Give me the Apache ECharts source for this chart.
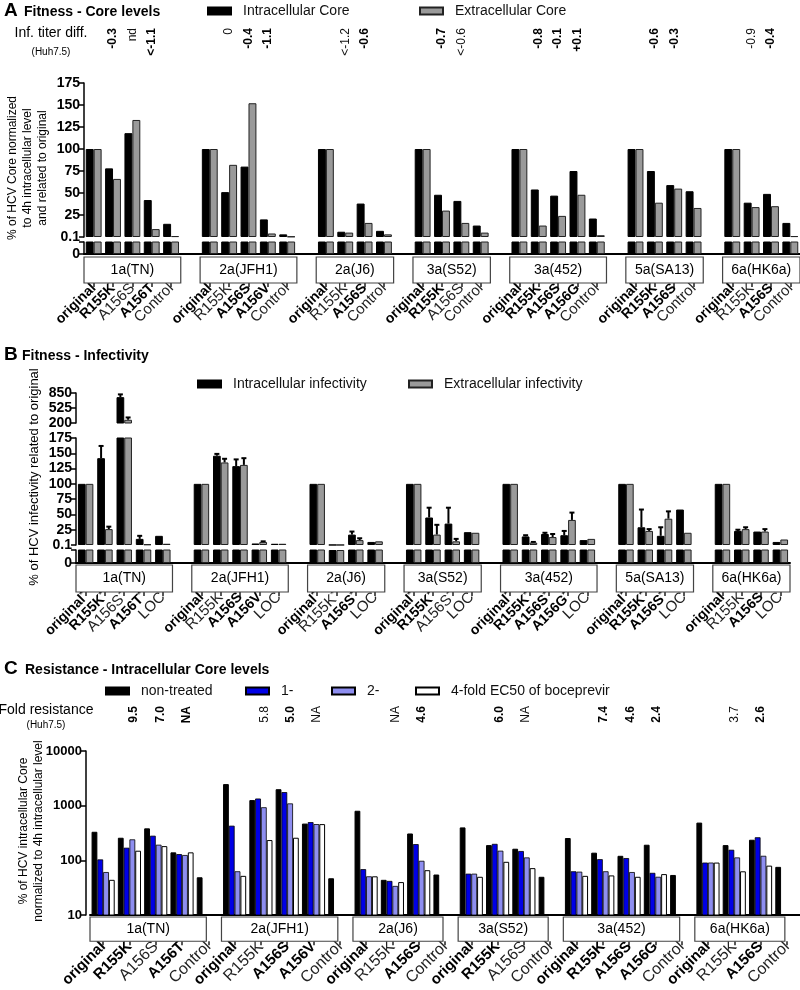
<!DOCTYPE html>
<html>
<head>
<meta charset="utf-8">
<script src="https://cdn.jsdelivr.net/npm/echarts@6/dist/echarts.min.js"></script>
<style>
html,body{margin:0;padding:0;background:#fff}
#main{width:800px;height:990px}
</style>
</head>
<body>
<div id="main"></div>
<script>
var FONT = "'Liberation Sans', Arial, sans-serif";

// ---- A: core levels ----
var strainsA = ['1a(TN)', '2a(JFH1)', '2a(J6)', '3a(S52)', '3a(452)', '5a(SA13)', '6a(HK6a)'];
var variantsA = [
    ['original', 'R155K', 'A156S', 'A156T', 'Control'],
    ['original', 'R155K', 'A156S', 'A156V', 'Control'],
    ['original', 'R155K', 'A156S', 'Control'],
    ['original', 'R155K', 'A156S', 'Control'],
    ['original', 'R155K', 'A156S', 'A156G', 'Control'],
    ['original', 'R155K', 'A156S', 'Control'],
    ['original', 'R155K', 'A156S', 'Control']
];
var boldA = [[1,1,0,1,0], [1,0,1,1,0], [1,0,1,0], [1,1,0,0], [1,1,1,1,0], [1,1,1,0], [1,0,1,0]];
var intraCoreA = [[100,78,118,42,15], [100,51,80,20,3], [100,6,38,7], [100,48,41,13], [100,54,47,75,21], [100,75,59,52], [100,39,49,16]];
var extraCoreA = [[100,66,133,9,1], [100,82,152,4,0.5], [100,5,16,3], [100,30,16,5], [100,13,24,48,2], [100,39,55,33], [100,34,35,1]];
var titerA = [['','-0.3','nd','<-1.1',''], ['','0','-0.4','-1.1',''], ['','<-1.2','-0.6',''], ['','-0.7','<-0.6',''], ['','-0.8','-0.1','+0.1',''], ['','-0.6','-0.3',''], ['','-0.9','-0.4','']];
var titerBoldA = [[0,1,0,1,0], [0,0,1,1,0], [0,0,1,0], [0,1,0,0], [0,1,1,1,0], [0,1,1,0], [0,0,1,0]];

// ---- B: infectivity ----
var variantsB = [
    ['original*', 'R155K*', 'A156S*', 'A156T*', 'LOC'],
    ['original', 'R155K', 'A156S', 'A156V', 'LOC'],
    ['original*', 'R155K*', 'A156S*', 'LOC'],
    ['original*', 'R155K*', 'A156S*', 'LOC'],
    ['original*', 'R155K*', 'A156S*', 'A156G*', 'LOC'],
    ['original*', 'R155K*', 'A156S*', 'LOC'],
    ['original', 'R155K', 'A156S', 'LOC']
];
var boldB = [[1,1,0,1,0], [1,0,1,1,0], [1,0,1,0], [1,1,0,0], [1,1,1,1,0], [1,1,1,0], [1,0,1,0]];
var intraInfB = [[100,142,760,10,15], [100,146,129,2.5,2], [100,0.1,17,5], [100,45,35,21], [100,14,18,16,8], [100,29,15,58], [100,23,22,5]];
var intraErrB = [[0,20,60,5,0], [0,3,11,0,0], [0,0,5,0], [0,16,26,0], [0,2,2,7,0], [0,29,14,0], [0,2,0,0]];
var extraInfB = [[100,26,270,1,2], [100,135,131,5,2], [100,0.1,8,6], [100,17,6,20], [100,4,13,41,10], [100,23,43,20], [100,26,22,9]];
var extraErrB = [[0,4,50,0,0], [0,6,11,1,0], [0,0,3,0], [0,16,4,0], [0,1,5,12,0], [0,3,12,0], [0,3,4,0]];

// ---- C: resistance ----
var strainsC = ['1a(TN)', '2a(JFH1)', '2a(J6)', '3a(S52)', '3a(452)', '6a(HK6a)'];
var variantsC = [
    ['original', 'R155K', 'A156S', 'A156T', 'Control'],
    ['original', 'R155K', 'A156S', 'A156V', 'Control'],
    ['original', 'R155K', 'A156S', 'Control'],
    ['original', 'R155K', 'A156S', 'Control'],
    ['original', 'R155K', 'A156S', 'A156G', 'Control'],
    ['original', 'R155K', 'A156S', 'Control']
];
var boldC = [[1,1,0,1,0], [1,0,1,1,0], [1,0,1,0], [1,1,0,0], [1,1,1,1,0], [1,0,1,0]];
var nonTreatedC = [[333,259,385,140,49], [2480,1265,2000,470,47], [807,44,310,55], [400,190,163,50], [256,138,121,193,54], [490,190,238,76]];
var drug1C = [[104,170,282,130,null], [430,1350,1770,500,null], [69,42,198,null], [57,200,148,null], [63,105,110,59,null], [91,156,264,null]];
var drug2C = [[61,242,193,125,null], [63,935,1100,460,null], [51,34,98,null], [57,150,113,null], [62,63,61,50,null], [91,113,121,null]];
var bocC = [[44,150,182,140,null], [52,235,259,460,null], [51,40,66,null], [50,94,72,null], [52,53,50,56,null], [91,63,80,null]];
var foldC = [['','9.5','7.0','NA',''], ['','5.8','5.0','NA',''], ['','NA','4.6',''], ['','6.0','NA',''], ['','7.4','4.6','2.4',''], ['','3.7','2.6','']];
var foldBoldC = [[0,1,1,1,0], [0,0,1,0,0], [0,0,1,0], [0,1,0,0], [0,1,1,1,0], [0,0,1,0]];

function layout(groups, gap) {
    var start = [], n = 0;
    groups.forEach(function (g, i) {
        start.push(n);
        n += g.length + (i < groups.length - 1 ? gap : 0);
    });
    return {start: start, total: n};
}
function spread(groups, lay, fill) {
    var out = [];
    for (var i = 0; i < lay.total; i++) out.push(fill);
    groups.forEach(function (g, gi) {
        g.forEach(function (v, k) { out[lay.start[gi] + k] = v; });
    });
    return out;
}
function richLabel(text, bold) {
    if (!text) return '';
    var star = text.charAt(text.length - 1) === '*';
    var core = star ? text.slice(0, -1) : text;
    var s = '{' + (bold ? 'b' : 'n') + '|' + core + '}';
    if (star) s += '{' + (bold ? 'bs' : 'ns') + '|*}';
    return s;
}
function labelList(groups, bolds, lay) {
    var t = spread(groups, lay, ''), b = spread(bolds, lay, 0);
    return t.map(function (x, i) { return richLabel(x, b[i]); });
}
function boxData(groups, lay) {
    return groups.map(function (g, i) { return [lay.start[i], lay.start[i] + g.length - 1, 0.5]; });
}
function errData(vals, errs, lay) {
    var v = spread(vals, lay, null), e = spread(errs, lay, 0), out = [];
    v.forEach(function (x, i) { if (e[i] > 0) out.push([i, x, e[i]]); });
    return out;
}
function makeRich(bs, ns) {
    return {
        b: {fontFamily: FONT, fontSize: bs, fontWeight: 'bold', color: '#000'},
        n: {fontFamily: FONT, fontSize: ns, fontWeight: 'normal', color: '#222'},
        bs: {fontFamily: FONT, fontSize: 9, fontWeight: 'bold', color: '#000', padding: [0, 0, 6, 0]},
        ns: {fontFamily: FONT, fontSize: 9, fontWeight: 'normal', color: '#222', padding: [0, 0, 6, 0]}
    };
}
var RICH_AB = makeRich(14, 15);
var RICH_C = makeRich(15, 16);
var ANN_RICH = {
    b: {fontFamily: FONT, fontSize: 12, fontWeight: 'bold', color: '#000'},
    n: {fontFamily: FONT, fontSize: 12, fontWeight: 'normal', color: '#111'}
};

var grids = [], xAxes = [], yAxes = [], series = [];
function addGrid(box, n, xo, yo) {
    var gi = grids.length;
    grids.push(box);
    var cats = [];
    for (var i = 0; i < n; i++) cats.push(String(i));
    xAxes.push(Object.assign({type: 'category', gridIndex: gi, data: cats, show: false}, xo || {}));
    yAxes.push(Object.assign({type: 'value', gridIndex: gi}, yo || {}));
    return gi;
}
function valAxis(min, max, interval, fmt, size) {
    return {
        min: min, max: max, interval: interval,
        axisLine: {show: true, lineStyle: {color: '#000', width: 1.5}},
        axisTick: {show: true, length: 5, lineStyle: {color: '#000', width: 1.5}},
        axisLabel: {color: '#000', fontWeight: 'bold', fontSize: size || 14, fontFamily: FONT, margin: 4, formatter: fmt},
        splitLine: {show: false}
    };
}
var hidden = {show: false, min: 0, max: 1};
var baseLine = {show: true, axisLine: {show: true, lineStyle: {color: '#000', width: 2}}, axisTick: {show: false}, axisLabel: {show: false}};
function labelAxis(labels, rich) {
    return {
        show: true,
        axisLine: {show: false},
        axisTick: {show: true, alignWithLabel: true, length: 4, interval: function (i) { return labels[i] !== ''; }, lineStyle: {color: '#222', width: 1.5}},
        axisLabel: {interval: 0, rotate: 45, margin: 3, fontFamily: FONT, fontSize: 14, fontWeight: 'bold',
            overflow: 'none', hideOverlap: false,
            formatter: function (v, i) { return labels[i]; }, rich: rich}
    };
}
function annAxis(labels) {
    return {
        show: true,
        axisLine: {show: false},
        axisTick: {show: false},
        axisLabel: {interval: 0, rotate: 90, margin: 0, fontFamily: FONT, fontSize: 12, overflow: 'none',
            formatter: function (v, i) { return labels[i]; }, rich: ANN_RICH}
    };
}
function fmtTop(v) { return v === 0 ? '0.1' : v; }
function fmtZero(v) { return v === 0 ? '0' : ''; }

function bar(name, gi, data, style, gap) {
    series.push({type: 'bar', name: name, xAxisIndex: gi, yAxisIndex: gi, data: data,
        barGap: '0%', barCategoryGap: gap, itemStyle: style, clip: true, silent: true});
}
function boxes(gi, data, names, endFn) {
    series.push({
        type: 'custom', xAxisIndex: gi, yAxisIndex: gi, data: data, encode: {x: [0, 1], y: 2},
        silent: true, clip: false,
        renderItem: function (params, api) {
            var band = api.coord([1, 0.5])[0] - api.coord([0, 0.5])[0];
            var x0 = api.coord([api.value(0), 0.5])[0] - band / 2;
            var x1 = endFn(api.coord([api.value(1), 0.5])[0], band);
            var cs = params.coordSys;
            return {type: 'group', children: [
                {type: 'rect', shape: {x: x0, y: cs.y, width: x1 - x0, height: cs.height},
                    style: {fill: '#fff', stroke: '#444', lineWidth: 1.2}},
                {type: 'text', style: {text: names[params.dataIndex], x: (x0 + x1) / 2, y: cs.y + cs.height / 2,
                    align: 'center', verticalAlign: 'middle', textAlign: 'center', textVerticalAlign: 'middle',
                    font: '14px ' + FONT, fill: '#000'}}
            ]};
        }
    });
}
function errors(gi, data, side, gapFrac) {
    series.push({
        type: 'custom', xAxisIndex: gi, yAxisIndex: gi, data: data, encode: {x: 0, y: 1},
        silent: true, clip: true,
        renderItem: function (params, api) {
            var i = api.value(0), v = api.value(1), e = api.value(2);
            var band = api.coord([1, v])[0] - api.coord([0, v])[0];
            var bw = band * (1 - gapFrac) / 2;
            var p = api.coord([i, v]);
            var x = p[0] + side * bw / 2;
            var top = api.coord([i, v + e])[1];
            var st = {stroke: '#000', lineWidth: 2};
            return {type: 'group', children: [
                {type: 'line', shape: {x1: x, y1: p[1], x2: x, y2: top}, style: st},
                {type: 'line', shape: {x1: x - 2.5, y1: top, x2: x + 2.5, y2: top}, style: st}
            ]};
        }
    });
}

var BLACK = {color: '#000', borderColor: '#000', borderWidth: 1};
var GRAY = {color: '#9a9a9a', borderColor: '#222', borderWidth: 1};
var BLUE = {color: '#0000e6', borderColor: '#000', borderWidth: 0.8};
var LAV = {color: '#8e8ef0', borderColor: '#000', borderWidth: 0.8};
var WHITE = {color: '#fff', borderColor: '#000', borderWidth: 1};
var slotEnd = function (xc, band) { return xc + band / 2; };

// panel A
var layA = layout(variantsA, 1);
var labelsA = labelList(variantsA, boldA, layA);
var annA = labelList(titerA, titerBoldA, layA);
var inA = spread(intraCoreA, layA, '-'), exA = spread(extraCoreA, layA, '-');
var gA1 = addGrid({left: 84, top: 83, width: 716, height: 154}, layA.total, {}, valAxis(0, 175, 25, fmtTop));
var gA0 = addGrid({left: 84, top: 242, width: 716, height: 12}, layA.total, baseLine, valAxis(0, 0.1, 0.1, fmtZero));
var gAb = addGrid({left: 84, top: 257, width: 716, height: 26}, layA.total, labelAxis(labelsA, RICH_AB), hidden);
addGrid({left: 84, top: 27, width: 716, height: 1}, layA.total, annAxis(annA), hidden);
[gA1, gA0].forEach(function (g) {
    bar('Intracellular Core', g, inA, BLACK, '18%');
    bar('Extracellular Core', g, exA, GRAY, '18%');
});
boxes(gAb, boxData(variantsA, layA), strainsA, slotEnd);

// panel B
var layB = layout(variantsB, 1);
var labelsB = labelList(variantsB, boldB, layB);
var inB = spread(intraInfB, layB, '-'), exB = spread(extraInfB, layB, '-');
var gB2 = addGrid({left: 76, top: 393, width: 714, height: 30}, layB.total, {}, valAxis(200, 850, 325));
var gB1 = addGrid({left: 76, top: 438, width: 714, height: 107}, layB.total, {}, valAxis(0, 175, 25, fmtTop));
var gB0 = addGrid({left: 76, top: 550, width: 714, height: 13}, layB.total, baseLine, valAxis(0, 0.1, 0.1, fmtZero));
var gBb = addGrid({left: 76, top: 565, width: 714, height: 27}, layB.total, labelAxis(labelsB, RICH_AB), hidden);
[gB2, gB1, gB0].forEach(function (g) {
    bar('Intracellular infectivity', g, inB, BLACK, '20%');
    bar('Extracellular infectivity', g, exB, GRAY, '20%');
});
[gB2, gB1].forEach(function (g) {
    errors(g, errData(intraInfB, intraErrB, layB), -1, 0.2);
    errors(g, errData(extraInfB, extraErrB, layB), 1, 0.2);
});
boxes(gBb, boxData(variantsB, layB), strainsA, slotEnd);

// panel C
var layC = layout(variantsC, 0);
var labelsC = labelList(variantsC, boldC, layC);
var annC = labelList(foldC, foldBoldC, layC);
var logAxis = valAxis(10, 10000, null, function (v) { return String(v); }, 13);
logAxis.type = 'log';
logAxis.logBase = 10;
delete logAxis.interval;
logAxis.offset = 4;
var gC = addGrid({left: 90, top: 751, width: 716, height: 164}, layC.total, baseLine, logAxis);
var gCb = addGrid({left: 90, top: 917, width: 716, height: 26}, layC.total, labelAxis(labelsC, RICH_C), hidden);
addGrid({left: 95, top: 705, width: 716, height: 1}, layC.total, annAxis(annC), hidden);
bar('non-treated', gC, spread(nonTreatedC, layC, '-'), BLACK, '12%');
bar('1-', gC, spread(drug1C, layC, '-'), BLUE, '12%');
bar('2-', gC, spread(drug2C, layC, '-'), LAV, '12%');
bar('4-fold EC50 of boceprevir', gC, spread(bocC, layC, '-'), WHITE, '12%');
boxes(gCb, boxData(variantsC, layC), strainsC, function (xc) { return xc - 2; });

function leg(name, left, top) {
    return {data: [name], left: left, top: top, padding: 0, itemWidth: 23, itemHeight: 7,
        selectedMode: false, icon: 'rect',
        textStyle: {fontSize: 14, fontFamily: FONT, color: '#111', padding: [0, 0, 0, 7]}};
}
var legends = [
    leg('Intracellular Core', 207, 4), leg('Extracellular Core', 419, 4),
    leg('Intracellular infectivity', 197, 377), leg('Extracellular infectivity', 408, 377),
    leg('non-treated', 105, 684), leg('1-', 245, 684), leg('2-', 331, 684),
    leg('4-fold EC50 of boceprevir', 415, 684)
];

function txt(x, y, text, font, align) {
    return {type: 'text', x: x, y: y, silent: true,
        style: {text: text, font: font, fill: '#000', align: align || 'left', verticalAlign: 'middle',
            textAlign: align || 'left', textVerticalAlign: 'middle'}};
}
function vtxt(x, y, text, font) {
    var t = txt(x, y, text, font, 'center');
    t.rotation = Math.PI / 2;
    t.style.lineHeight = 15;
    return t;
}
var graphics = [
    txt(4, 11, 'A', 'bold 19px ' + FONT), txt(24, 12, 'Fitness - Core levels', 'bold 14px ' + FONT),
    txt(51, 33, 'Inf. titer diff.', '14px ' + FONT, 'center'), txt(51, 52, '(Huh7.5)', '10px ' + FONT, 'center'),
    vtxt(28, 168, '% of HCV Core normalized\nto 4h intracellular level\nand related to original', '12px ' + FONT),
    txt(4, 355, 'B', 'bold 19px ' + FONT), txt(22, 356, 'Fitness - Infectivity', 'bold 14px ' + FONT),
    vtxt(34, 477, '% of HCV infectivity related to original', '13px ' + FONT),
    txt(4, 669, 'C', 'bold 19px ' + FONT), txt(25, 670, 'Resistance - Intracellular Core levels', 'bold 14px ' + FONT),
    txt(46, 710, 'Fold resistance', '14px ' + FONT, 'center'), txt(46, 725, '(Huh7.5)', '10px ' + FONT, 'center'),
    vtxt(31, 831, '% of HCV intracellular Core\nnormalized to 4h intracellular level', '12px ' + FONT)
];

var chart = echarts.init(document.getElementById('main'));
chart.setOption({
    animation: false,
    backgroundColor: '#fff',
    textStyle: {fontFamily: FONT},
    legend: legends,
    grid: grids,
    xAxis: xAxes,
    yAxis: yAxes,
    series: series,
    graphic: graphics
});
</script>
</body>
</html>
